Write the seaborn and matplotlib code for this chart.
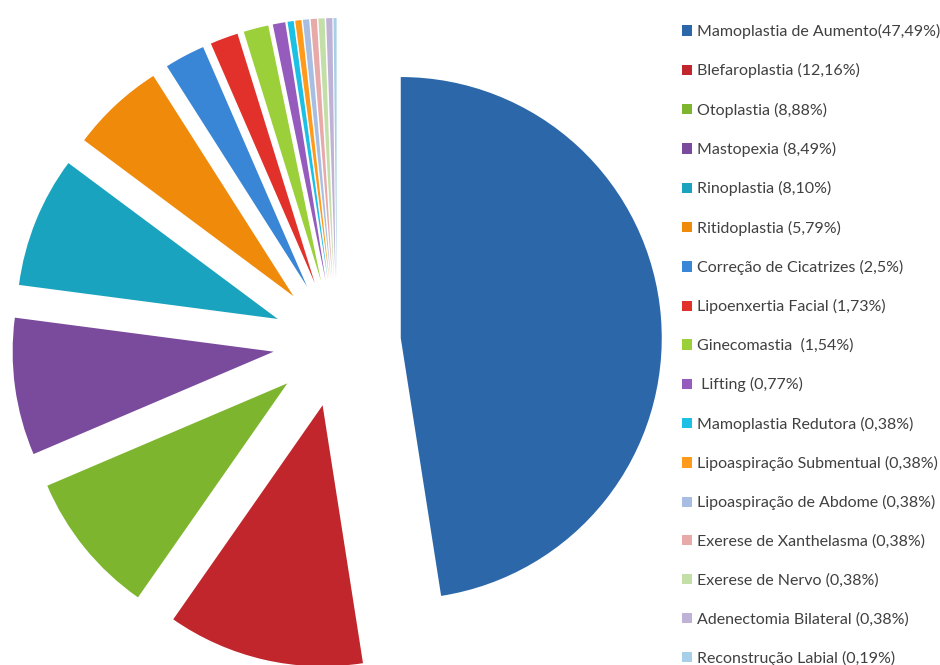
import matplotlib
matplotlib.use("Agg")
import matplotlib.pyplot as plt
import seaborn as sns
from matplotlib.patches import Patch

categories = [
    "Mamoplastia de Aumento(47,49%)",
    "Blefaroplastia (12,16%)",
    "Otoplastia (8,88%)",
    "Mastopexia (8,49%)",
    "Rinoplastia (8,10%)",
    "Ritidoplastia (5,79%)",
    "Correção de Cicatrizes (2,5%)",
    "Lipoenxertia Facial (1,73%)",
    "Ginecomastia  (1,54%)",
    " Lifting (0,77%)",
    "Mamoplastia Redutora (0,38%)",
    "Lipoaspiração Submentual (0,38%)",
    "Lipoaspiração de Abdome (0,38%)",
    "Exerese de Xanthelasma (0,38%)",
    "Exerese de Nervo (0,38%)",
    "Adenectomia Bilateral (0,38%)",
    "Reconstrução Labial (0,19%)",
]
values = [47.49, 12.16, 8.88, 8.49, 8.10, 5.79, 2.5, 1.73, 1.54, 0.77,
          0.38, 0.38, 0.38, 0.38, 0.38, 0.38, 0.19]
colors = ["#2C67AA", "#C0262B", "#7DB52E", "#7A4B9C", "#1AA3BE", "#F08A0A",
          "#3A86D6", "#E2312A", "#9BD03A", "#955CBE", "#1CC0E4", "#FF9A1A",
          "#A7BDE2", "#E8A9A9", "#C4DEA8", "#BEB2D6", "#A8CFE8"]

sns.set_theme(style="white")
plt.rcParams["font.family"] = ["Lato", "DejaVu Sans"]

W, H = 940, 665
fig = plt.figure(figsize=(W / 100, H / 100), dpi=100)
fig.patch.set_facecolor("white")

# pie axes: centre at (337, 343) px, radius 261 px
cx, cy, r = 337, 343, 261
axw = 670
ax = fig.add_axes([0, 0, axw / W, 1])
palette = sns.color_palette(colors)
wedges, _ = ax.pie(values, colors=palette, startangle=90, counterclock=False,
                   explode=[0.245] * len(values), radius=1.0,
                   wedgeprops=dict(linewidth=0))
ax.set_aspect("auto")
ax.set_xlim(-cx / r, (axw - cx) / r)
ax.set_ylim(-(H - cy) / r, cy / r)
ax.axis("off")

handles = [Patch(facecolor=c, edgecolor="none") for c in palette]
leg = fig.legend(handles, categories, loc="upper left",
                 bbox_to_anchor=(682 / W, 1 - 24 / H),
                 frameon=False, fontsize=11.5, labelspacing=1.52,
                 handlelength=0.6, handleheight=0.6, handletextpad=0.35,
                 borderpad=0, borderaxespad=0)
for t in leg.get_texts():
    t.set_color("#404040")

fig.savefig("out.png", dpi=100, facecolor="white")
